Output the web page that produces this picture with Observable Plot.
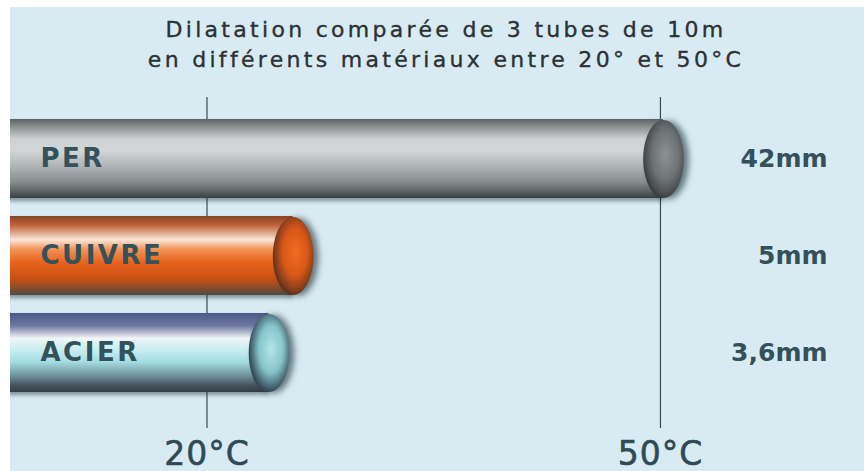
<!DOCTYPE html>
<html>
<head>
<meta charset="utf-8">
<script src="https://cdn.jsdelivr.net/npm/d3@7"></script>
<script src="https://cdn.jsdelivr.net/npm/@observablehq/plot@0.6"></script>
<style>
  html, body { margin: 0; padding: 0; background: #ffffff; }
  #panel { position: absolute; left: 10px; top: 7px; width: 854px; height: 464px; background: #d8ebf2; overflow: hidden; }
  #title { position: absolute; left: 9px; top: 0; width: 854px; text-align: center; font-family: "DejaVu Sans", sans-serif;
           font-size: 22px; letter-spacing: 3.3px; color: #2c3134; line-height: 30px; padding-top: 8px; -webkit-text-stroke: 0.35px #2c3134; }
  #chart { position: absolute; left: 0; top: 83px; }
</style>
</head>
<body>
<svg width="0" height="0" style="position:absolute">
  <defs>
    <linearGradient id="body0" x1="0" y1="0" x2="0" y2="1">
      <stop offset="0" stop-color="#5c6164"/>
      <stop offset="0.08" stop-color="#82878a"/>
      <stop offset="0.25" stop-color="#cdd1d2"/>
      <stop offset="0.4" stop-color="#d2d6d7"/>
      <stop offset="0.6" stop-color="#aeb3b5"/>
      <stop offset="0.8" stop-color="#868b8e"/>
      <stop offset="0.92" stop-color="#5a5f62"/>
      <stop offset="1" stop-color="#3a3e41"/>
    </linearGradient>
    <linearGradient id="body1" x1="0" y1="0" x2="0" y2="1">
      <stop offset="0" stop-color="#8a4424"/>
      <stop offset="0.12" stop-color="#c0663c"/>
      <stop offset="0.3" stop-color="#fbe6d8"/>
      <stop offset="0.42" stop-color="#f29458"/>
      <stop offset="0.58" stop-color="#e8641c"/>
      <stop offset="0.8" stop-color="#c94f12"/>
      <stop offset="0.93" stop-color="#7c4a30"/>
      <stop offset="1" stop-color="#4f4a48"/>
    </linearGradient>
    <linearGradient id="body2" x1="0" y1="0" x2="0" y2="1">
      <stop offset="0" stop-color="#4d578a"/>
      <stop offset="0.16" stop-color="#6d77a0"/>
      <stop offset="0.32" stop-color="#f1f6f7"/>
      <stop offset="0.46" stop-color="#c9eef0"/>
      <stop offset="0.62" stop-color="#a3dce1"/>
      <stop offset="0.8" stop-color="#6d8e97"/>
      <stop offset="0.92" stop-color="#45525c"/>
      <stop offset="1" stop-color="#333c44"/>
    </linearGradient>
    <radialGradient id="cap0" cx="0.55" cy="0.45" r="0.6">
      <stop offset="0" stop-color="#8d9294"/>
      <stop offset="0.55" stop-color="#6c7174"/>
      <stop offset="0.85" stop-color="#474b4e"/>
      <stop offset="1" stop-color="#2a2e30"/>
    </radialGradient>
    <radialGradient id="cap1" cx="0.55" cy="0.45" r="0.6">
      <stop offset="0" stop-color="#f06c22"/>
      <stop offset="0.5" stop-color="#d95818"/>
      <stop offset="0.85" stop-color="#7a3a1c"/>
      <stop offset="1" stop-color="#3e2c24"/>
    </radialGradient>
    <radialGradient id="cap2" cx="0.55" cy="0.45" r="0.6">
      <stop offset="0" stop-color="#b3e7eb"/>
      <stop offset="0.5" stop-color="#86c4cc"/>
      <stop offset="0.85" stop-color="#3e5a66"/>
      <stop offset="1" stop-color="#27343e"/>
    </radialGradient>
  </defs>
</svg>
<div id="panel">
  <div id="title">Dilatation comparée de 3 tubes de 10m<br>en différents matériaux entre 20° et 50°C</div>
  <div id="chart"></div>
</div>
<script>
// ---- data ----
const materials   = ["PER", "CUIVRE", "ACIER"];
const dilationMm  = [42, 5, 3.6];
const valueLabels = ["42mm", "5mm", "3,6mm"];
// where each tube ends, in units of the temperature axis (20°C / 50°C lines)
const tubeEnd     = [50.2, 25.7, 24.1];
const tempTicks   = [20, 50];
const tempLabels  = ["20°C", "50°C"];
const xDomain     = [7, 63.5];

const tubes = materials.map((m, i) => ({name: m, end: tubeEnd[i], mm: dilationMm[i], label: valueLabels[i], i}));

// ellipse symbol for the tube caps
const ellipse = {
  draw(ctx, size) {
    const r = Math.sqrt(size / Math.PI);
    const ry = r, rx = r * 0.52, k = 0.5523;
    ctx.moveTo(rx, 0);
    ctx.bezierCurveTo(rx, k * ry, k * rx, ry, 0, ry);
    ctx.bezierCurveTo(-k * rx, ry, -rx, k * ry, -rx, 0);
    ctx.bezierCurveTo(-rx, -k * ry, -k * rx, -ry, 0, -ry);
    ctx.bezierCurveTo(k * rx, -ry, rx, -k * ry, rx, 0);
    ctx.closePath();
  }
};

const ink = "#2f4a55";

const plot = Plot.plot({
  width: 854,
  height: 381,
  marginLeft: 0,
  marginRight: 0,
  marginTop: 10,
  marginBottom: 60,
  style: {background: "transparent", fontFamily: "DejaVu Sans, sans-serif", overflow: "hidden"},
  x: {domain: xDomain, axis: null},
  y: {domain: materials, axis: null, paddingInner: 0.19, paddingOuter: 0.19},
  marks: [
    Plot.ruleX(tempTicks, {x: d => d, stroke: "#3c4a50", strokeWidth: 1.2, insetTop: -3, insetBottom: -17}),
    ...tubes.map(t => Plot.barX([t], {x: "end", y: "name", fill: `url(#body${t.i})`, clip: true})),
    ...tubes.map(t => Plot.dot([t], {x: "end", y: "name", r: 39, symbol: ellipse, fill: `url(#cap${t.i})`, stroke: "none"})),
    Plot.text(tubes, {y: "name", text: "name", frameAnchor: "left", textAnchor: "start", dx: 30, fontSize: 26, fontWeight: "bold", fill: "#34525c"}),
    Plot.text(tubes, {y: "name", text: "label", frameAnchor: "right", textAnchor: "end", dx: -37, fontSize: 25, fontWeight: "bold", fill: "#34505a"}),
    Plot.text(tempTicks, {x: d => d, text: (d, i) => tempLabels[i], frameAnchor: "bottom", dy: 53, fontSize: 33, fill: ink, stroke: ink, strokeWidth: 0.6})
  ]
});

// finishing touches: shadows and letter spacing
const sel = d3.select(plot);
sel.selectAll("rect").style("filter", "drop-shadow(0px 3px 2px rgba(20,40,50,0.45))");
sel.selectAll("path").style("filter", "drop-shadow(5px 1px 3px rgba(20,40,50,0.6))");
sel.selectAll("text").filter(function() { return materials.includes(this.textContent); }).style("letter-spacing", "2.5px");
sel.selectAll("text").filter(function() { return tempLabels.includes(this.textContent); }).style("letter-spacing", "1px");

document.getElementById("chart").appendChild(plot);
</script>
</body>
</html>
